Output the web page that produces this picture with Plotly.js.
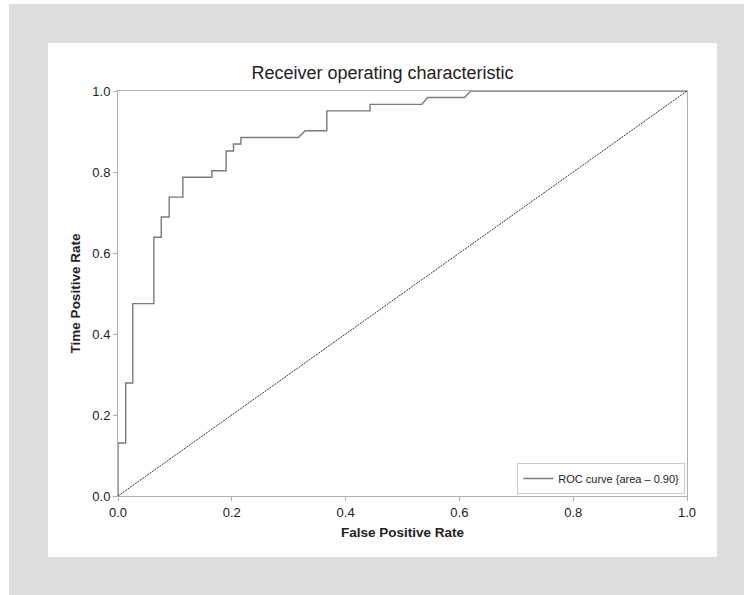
<!DOCTYPE html>
<html>
<head>
<meta charset="utf-8">
<script src="https://cdn.plot.ly/plotly-3.0.1.min.js"></script>
<style>
  html, body { margin: 0; padding: 0; background: #ffffff; width: 744px; height: 595px; overflow: hidden; }
  #outer { position: absolute; left: 9px; top: 4px; width: 735px; height: 591px; background: #dedede; }
  #chart { position: absolute; left: 48px; top: 43px; width: 669px; height: 514px; background: #ffffff; }
</style>
</head>
<body>
<div id="outer"></div>
<div id="chart"></div>
<script>
// ROC curve points
const fpr = [0, 0, 0.0135, 0.0135, 0.026, 0.026, 0.063, 0.063, 0.076, 0.076, 0.090, 0.090, 0.114, 0.114,
             0.165, 0.165, 0.190, 0.190, 0.203, 0.203, 0.216, 0.216, 0.317, 0.329, 0.367, 0.367,
             0.443, 0.443, 0.534, 0.544, 0.609, 0.620, 1.0];
const tpr = [0, 0.131, 0.131, 0.279, 0.279, 0.475, 0.475, 0.639, 0.639, 0.689, 0.689, 0.738, 0.738, 0.787,
             0.787, 0.803, 0.803, 0.852, 0.852, 0.869, 0.869, 0.885, 0.885, 0.902, 0.902, 0.951,
             0.951, 0.967, 0.967, 0.984, 0.984, 1.0, 1.0];
const chanceX = [0, 1];
const chanceY = [0, 1];
const tickVals = [0, 0.2, 0.4, 0.6, 0.8, 1.0];
const tickText = ['0.0', '0.2', '0.4', '0.6', '0.8', '1.0'];

const traces = [
  { x: fpr, y: tpr, type: 'scatter', mode: 'lines', name: 'ROC curve {area – 0.90}',
    line: { color: '#7a7a7a', width: 1.4 } },
  { x: chanceX, y: chanceY, type: 'scatter', mode: 'lines', showlegend: false,
    line: { color: '#333333', width: 1, dash: '2px,1px' } }
];

const axisCommon = {
  range: [0, 1], showgrid: false, zeroline: false, showline: true, mirror: true,
  linecolor: '#b0b0b0', linewidth: 1, ticks: 'outside', ticklen: 4, tickcolor: '#b0b0b0',
  tickvals: tickVals, ticktext: tickText, tickfont: { size: 13, color: '#222' }, automargin: false
};

const layout = {
  width: 669, height: 514,
  margin: { l: 70, r: 30, t: 48, b: 61 },
  paper_bgcolor: '#ffffff', plot_bgcolor: '#ffffff',
  font: { family: 'Liberation Sans, Arial, sans-serif', color: '#222' },
  title: { text: 'Receiver operating characteristic', font: { size: 18, color: '#222' },
           x: 0.5, xanchor: 'center', y: 1 - 30/514, yanchor: 'middle', yref: 'container' },
  xaxis: Object.assign({}, axisCommon, {
    title: { text: '<b>False Positive Rate</b>', font: { size: 13.5, color: '#222' }, standoff: 8 } }),
  yaxis: Object.assign({}, axisCommon, {
    title: { text: '<b>Time Positive Rate</b>', font: { size: 13.5, color: '#222' }, standoff: 8 } }),
  legend: { x: 0.997, xanchor: 'right', y: 0.005, yanchor: 'bottom', bgcolor: '#ffffff',
            bordercolor: '#cccccc', borderwidth: 1, font: { size: 11, color: '#222' },
            itemwidth: 30, tracegroupgap: 0 },
  showlegend: true
};

Plotly.newPlot('chart', traces, layout, { displayModeBar: false, staticPlot: true });
</script>
</body>
</html>
